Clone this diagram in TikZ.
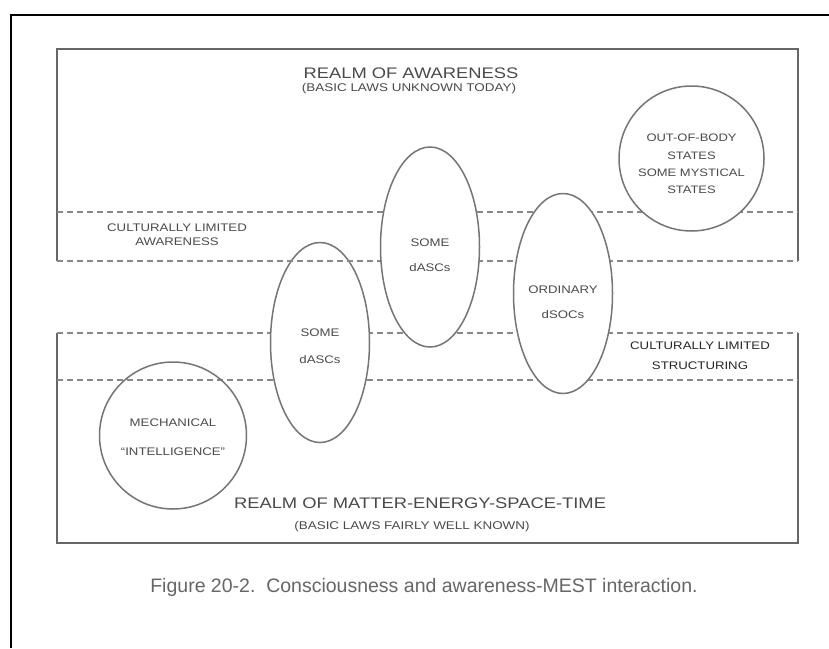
\documentclass[tikz,border=0pt]{standalone}
\usepackage{fontspec}
\setmainfont{Liberation Sans}
\newfontfamily\wide[FakeStretch=1.2]{Liberation Sans}
\usetikzlibrary{shapes.geometric}
\definecolor{ink}{HTML}{4A4A4A}
\definecolor{rule}{HTML}{666666}
\definecolor{dash}{HTML}{888888}
\tikzset{
  realm/.style={draw=rule, line width=2.2pt},
  limit/.style={draw=dash, line width=1.6pt, dash pattern=on 6pt off 4pt},
  state/.style={ellipse, draw=rule!90, line width=1.5pt, inner sep=0pt,
    minimum width=99pt, minimum height=200pt},
  tag/.style={text=ink, align=center, inner sep=0pt,
    font=\wide\fontsize{11}{25}\selectfont},
  head/.style={text=ink, inner sep=0pt, font=\wide\fontsize{15.3}{18}\selectfont},
  sub/.style={text=ink, inner sep=0pt, font=\wide\fontsize{11.2}{13}\selectfont}
}
\begin{document}
\begin{tikzpicture}[x=1pt,y=-1pt]
  \useasboundingbox[fill=white] (0,0) rectangle (829,648);
  % page frame
  \draw[black, line width=2.5pt] (11,648) -- (11,15) -- (829,15);
  % the two realms
  \draw[realm] (57,261) -- (57,49) -- (798,49) -- (798,261);
  \draw[realm] (57,333) -- (57,543) -- (798,543) -- (798,333);
  \coordinate (lvlA) at (57,212);
  \coordinate (lvlB) at (57,261);
  \coordinate (lvlC) at (57,333);
  \coordinate (lvlD) at (57,380);
  \foreach \lvl in {lvlA,lvlB,lvlC,lvlD}
    \draw[limit] (\lvl) -- ++(741,0);
  % states
  \node[state] (mech) at (173,435.5) [circle, minimum size=147pt, fill=none] {};
  \node[state, fill=white] (lowSome) at (320,342.5) {};
  \node[state, fill=white] (upSome) at (430,247) {};
  \node[state, fill=white] (ordin) at (563,293.5) {};
  \node[state, fill=white] (oob) at (691.5,158.5) [circle, minimum size=145pt] {};
  \draw[limit] (lvlB) -- (upSome.west |- lvlB);
  % labels
  \node[head] (awTitle) at (411,73) {REALM OF AWARENESS};
  \node[sub] (awSub) at (409,89) {(BASIC LAWS UNKNOWN TODAY)};
  \node[tag, font=\wide\fontsize{11}{14}\selectfont] (cultAw) at (177,235)
    {CULTURALLY LIMITED\\AWARENESS};
  \node[tag, text=black!85, font=\wide\fontsize{11}{20}\selectfont] (cultSt) at (700,356)
    {CULTURALLY LIMITED\\STRUCTURING};
  \node[tag] (upSomeTxt) at ([yshift=-8.5pt]upSome.center) {SOME\\dASCs};
  \node[tag, font=\wide\fontsize{11}{27}\selectfont] (lowSomeTxt)
    at ([yshift=-4pt]lowSome.center) {SOME\\dASCs};
  \node[tag] (ordinTxt) at ([yshift=-9pt]ordin.center) {ORDINARY\\dSOCs};
  \node[tag, font=\wide\fontsize{10.8}{17.3}\selectfont] (oobTxt)
    at ([yshift=-5.5pt]oob.center) {OUT-OF-BODY\\STATES\\SOME MYSTICAL\\STATES};
  \node[tag, font=\wide\fontsize{11}{29}\selectfont] (mechTxt)
    at ([yshift=-2pt]mech.center) {MECHANICAL\\“INTELLIGENCE”};
  \node[head] (mestTitle) at (420,503) {REALM OF MATTER-ENERGY-SPACE-TIME};
  \node[sub] (mestSub) at (412,527) {(BASIC LAWS FAIRLY WELL KNOWN)};
  \node[text=black!60, inner sep=0pt, font=\fontsize{19.5}{22}\selectfont] (caption)
    at (424,587) {Figure 20-2.\ \ Consciousness and awareness-MEST interaction.};
\end{tikzpicture}
\end{document}
